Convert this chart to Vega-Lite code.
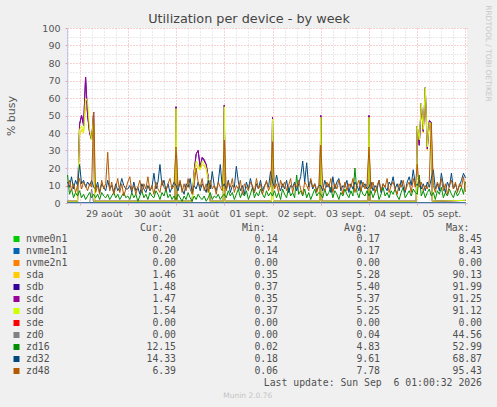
{
  "$schema": "https://vega.github.io/schema/vega-lite/v6.json",
  "background": "#f0f0f0",
  "padding": {"left": 5, "top": 5, "right": 6, "bottom": 9},
  "bounds": "flush",
  "spacing": 36,
  "title": {"text": "RRDTOOL / TOBI OETIKER", "orient": "right", "anchor": "start", "frame": "bounds", "offset": 2, "dx": -8, "fontSize": 7.5, "fontWeight": "normal", "color": "#c8c8c8", "font": "DejaVu Sans"},
  "config": {
    "view": {"stroke": null},
    "font": "DejaVu Sans",
    "text": {"font": "DejaVu Sans Mono", "fontSize": 9.8, "color": "#505050", "baseline": "middle"}
  },
  "datasets": {
    "series": [
      {"t": "2026-08-28T18:00", "nvme0n1": 0.2, "nvme1n1": 0.2, "nvme2n1": 0, "sde": 0, "zd0": 0, "sda": 1, "sdb": 1, "sdc": 1, "sdd": 1, "zd16": 16, "zd32": 12, "zd48": 9},
      {"t": "2026-08-28T19:00", "zd16": 5, "zd32": 9, "zd48": 13},
      {"t": "2026-08-28T20:00", "zd16": 8, "zd32": 15, "zd48": 7},
      {"t": "2026-08-28T21:00", "zd16": 3, "zd32": 8, "zd48": 11},
      {"t": "2026-08-28T22:00", "zd16": 6, "zd32": 13, "zd48": 6},
      {"t": "2026-08-28T23:00", "sda": 1, "sdb": 1, "sdc": 1, "sdd": 1, "zd16": 4, "zd32": 10, "zd48": 10},
      {"t": "2026-08-29T00:00", "sda": 38, "sdb": 45, "sdc": 45, "sdd": 42, "zd16": 7, "zd32": 22, "zd48": 14},
      {"t": "2026-08-29T01:00", "sda": 42, "sdb": 50, "sdc": 50, "sdd": 44, "zd16": 3, "zd32": 11, "zd48": 8},
      {"t": "2026-08-29T02:00", "sda": 40, "sdb": 44, "sdc": 45, "sdd": 40, "zd16": 5, "zd32": 13, "zd48": 12},
      {"t": "2026-08-29T03:00", "sda": 55, "sdb": 72, "sdc": 72, "sdd": 60, "zd16": 2, "zd32": 9, "zd48": 10},
      {"t": "2026-08-29T04:00", "sda": 52, "sdb": 50, "sdc": 50, "sdd": 58, "zd16": 4, "zd32": 12, "zd48": 7},
      {"t": "2026-08-29T05:00", "sda": 40, "sdb": 40, "sdc": 40, "sdd": 42, "zd0": 0, "zd16": 6, "zd32": 10, "zd48": 11},
      {"t": "2026-08-29T06:00", "sda": 37, "sdb": 36, "sdc": 36, "sdd": 36, "zd0": 8, "zd16": 3, "zd32": 13, "zd48": 9},
      {"t": "2026-08-29T07:00", "sda": 48, "sdb": 52, "sdc": 52, "sdd": 50, "zd0": 0, "zd16": 5, "zd32": 9, "zd48": 52},
      {"t": "2026-08-29T07:30", "sda": 1, "sdb": 1, "sdc": 1, "sdd": 1},
      {"t": "2026-08-29T08:00", "zd16": 3, "zd32": 8, "zd48": 6},
      {"t": "2026-08-29T09:00", "zd16": 5, "zd32": 12, "zd48": 10},
      {"t": "2026-08-29T10:00", "zd16": 2, "zd32": 6, "zd48": 5},
      {"t": "2026-08-29T11:00", "zd16": 6, "zd32": 11, "zd48": 13},
      {"t": "2026-08-29T12:00", "zd16": 4, "zd32": 9, "zd48": 8},
      {"t": "2026-08-29T13:00", "zd16": 3, "zd32": 7, "zd48": 11},
      {"t": "2026-08-29T14:00", "zd16": 5, "zd32": 13, "zd48": 29},
      {"t": "2026-08-29T15:00", "zd16": 2, "zd32": 8, "zd48": 7},
      {"t": "2026-08-29T16:00", "zd16": 4, "zd32": 10, "zd48": 12},
      {"t": "2026-08-29T17:00", "zd16": 6, "zd32": 6, "zd48": 5},
      {"t": "2026-08-29T18:00", "zd16": 3, "zd32": 11, "zd48": 9},
      {"t": "2026-08-29T19:00", "zd16": 5, "zd32": 7, "zd48": 14},
      {"t": "2026-08-29T20:00", "zd16": 2, "zd32": 9, "zd48": 6},
      {"t": "2026-08-29T21:00", "zd16": 4, "zd32": 14, "zd48": 11},
      {"t": "2026-08-29T22:00", "zd16": 6, "zd32": 10, "zd48": 4},
      {"t": "2026-08-29T23:00", "zd16": 3, "zd32": 8, "zd48": 8},
      {"t": "2026-08-30T00:00", "zd16": 4, "zd32": 8, "zd48": 12},
      {"t": "2026-08-30T01:00", "zd16": 2, "zd32": 10, "zd48": 15},
      {"t": "2026-08-30T02:00", "zd16": 6, "zd32": 6, "zd48": 7},
      {"t": "2026-08-30T03:00", "zd16": 3, "zd32": 12, "zd48": 10},
      {"t": "2026-08-30T04:00", "zd16": 5, "zd32": 7, "zd48": 5},
      {"t": "2026-08-30T05:00", "zd16": 1, "zd32": 9, "zd48": 9},
      {"t": "2026-08-30T06:00", "zd16": 4, "zd32": 5, "zd48": 13},
      {"t": "2026-08-30T07:00", "zd16": 7, "zd32": 11, "zd48": 6},
      {"t": "2026-08-30T08:00", "zd16": 3, "zd32": 8, "zd48": 11},
      {"t": "2026-08-30T09:00", "zd16": 5, "zd32": 6, "zd48": 8},
      {"t": "2026-08-30T10:00", "zd16": 2, "zd32": 10, "zd48": 15},
      {"t": "2026-08-30T11:00", "zd16": 6, "zd32": 7, "zd48": 7},
      {"t": "2026-08-30T12:00", "zd16": 4, "zd32": 9, "zd48": 10},
      {"t": "2026-08-30T13:00", "zd16": 3, "zd32": 17, "zd48": 5},
      {"t": "2026-08-30T14:00", "zd16": 7, "zd32": 8, "zd48": 12},
      {"t": "2026-08-30T15:00", "zd16": 5, "zd32": 12, "zd48": 8},
      {"t": "2026-08-30T16:00", "zd16": 2, "zd32": 22, "zd48": 6},
      {"t": "2026-08-30T17:00", "zd16": 6, "zd32": 10, "zd48": 13},
      {"t": "2026-08-30T18:00", "zd16": 4, "zd32": 13, "zd48": 9},
      {"t": "2026-08-30T19:00", "zd16": 8, "zd32": 7, "zd48": 7},
      {"t": "2026-08-30T20:00", "zd16": 3, "zd32": 11, "zd48": 11},
      {"t": "2026-08-30T21:00", "zd16": 5, "zd32": 6, "zd48": 14},
      {"t": "2026-08-30T22:00", "zd16": 2, "zd32": 9, "zd48": 8},
      {"t": "2026-08-30T23:00", "zd16": 4, "zd32": 12, "zd48": 10},
      {"t": "2026-08-30T23:30", "sda": 1, "sdb": 1, "sdc": 1, "sdd": 1},
      {"t": "2026-08-31T00:00", "sda": 50, "sdb": 55, "sdc": 55, "sdd": 54, "zd16": 2, "zd32": 10, "zd48": 32},
      {"t": "2026-08-31T00:30", "sda": 1, "sdb": 1, "sdc": 1, "sdd": 1},
      {"t": "2026-08-31T01:00", "zd16": 5, "zd32": 7, "zd48": 9},
      {"t": "2026-08-31T02:00", "zd16": 3, "zd32": 12, "zd48": 13},
      {"t": "2026-08-31T03:00", "zd16": 1, "zd32": 8, "zd48": 6},
      {"t": "2026-08-31T04:00", "zd16": 4, "zd32": 5, "zd48": 11},
      {"t": "2026-08-31T05:00", "zd16": 2, "zd32": 11, "zd48": 7},
      {"t": "2026-08-31T06:00", "zd16": 6, "zd32": 9, "zd48": 14},
      {"t": "2026-08-31T07:00", "zd16": 3, "zd32": 14, "zd48": 8},
      {"t": "2026-08-31T08:00", "sda": 1, "sdb": 1, "sdc": 1, "sdd": 1, "zd16": 1, "zd32": 6, "zd48": 5},
      {"t": "2026-08-31T09:00", "sda": 16, "sdb": 18, "sdc": 18, "sdd": 17, "zd16": 4, "zd32": 10, "zd48": 10},
      {"t": "2026-08-31T10:00", "sda": 22, "sdb": 28, "sdc": 28, "sdd": 24, "zd16": 2, "zd32": 8, "zd48": 20},
      {"t": "2026-08-31T11:00", "sda": 20, "sdb": 30, "sdc": 30, "sdd": 22, "zd16": 5, "zd32": 12, "zd48": 12},
      {"t": "2026-08-31T12:00", "sda": 19, "sdb": 20, "sdc": 21, "sdd": 19, "zd16": 3, "zd32": 7, "zd48": 9},
      {"t": "2026-08-31T13:00", "sda": 22, "sdb": 26, "sdc": 26, "sdd": 24, "zd16": 2, "zd32": 11, "zd48": 14},
      {"t": "2026-08-31T14:00", "sda": 21, "sdb": 24, "sdc": 25, "sdd": 22, "zd16": 4, "zd32": 9, "zd48": 7},
      {"t": "2026-08-31T15:00", "sda": 19, "sdb": 22, "sdc": 22, "sdd": 20, "zd16": 1, "zd32": 6, "zd48": 11},
      {"t": "2026-08-31T16:00", "sda": 13, "sdb": 15, "sdc": 15, "sdd": 14, "zd16": 3, "zd32": 13, "zd48": 6},
      {"t": "2026-08-31T17:00", "sda": 1, "sdb": 1, "sdc": 1, "sdd": 1, "zd16": 6, "zd32": 8, "zd48": 13},
      {"t": "2026-08-31T18:00", "zd16": 2, "zd32": 18, "zd48": 8},
      {"t": "2026-08-31T19:00", "zd16": 4, "zd32": 10, "zd48": 10},
      {"t": "2026-08-31T20:00", "zd16": 3, "zd32": 7, "zd48": 5},
      {"t": "2026-08-31T21:00", "zd16": 5, "zd32": 12, "zd48": 12},
      {"t": "2026-08-31T22:00", "zd16": 2, "zd32": 22, "zd48": 9},
      {"t": "2026-08-31T23:00", "zd16": 4, "zd32": 9, "zd48": 7},
      {"t": "2026-08-31T23:30", "sda": 1, "sdb": 1, "sdc": 1, "sdd": 1},
      {"t": "2026-09-01T00:00", "sda": 52, "sdb": 56, "sdc": 56, "sdd": 55, "zd16": 5, "zd32": 11, "zd48": 36},
      {"t": "2026-09-01T00:30", "sda": 1, "sdb": 1, "sdc": 1, "sdd": 1},
      {"t": "2026-09-01T01:00", "zd16": 3, "zd32": 8, "zd48": 7},
      {"t": "2026-09-01T02:00", "zd16": 7, "zd32": 13, "zd48": 12},
      {"t": "2026-09-01T03:00", "zd16": 4, "zd32": 6, "zd48": 9},
      {"t": "2026-09-01T04:00", "zd16": 6, "zd32": 10, "zd48": 14},
      {"t": "2026-09-01T05:00", "zd16": 2, "zd32": 9, "zd48": 6},
      {"t": "2026-09-01T06:00", "zd16": 5, "zd32": 21, "zd48": 10},
      {"t": "2026-09-01T07:00", "zd16": 8, "zd32": 12, "zd48": 8},
      {"t": "2026-09-01T08:00", "zd16": 3, "zd32": 7, "zd48": 13},
      {"t": "2026-09-01T09:00", "zd16": 6, "zd32": 10, "zd48": 5},
      {"t": "2026-09-01T10:00", "zd16": 4, "zd32": 5, "zd48": 11},
      {"t": "2026-09-01T11:00", "zd16": 7, "zd32": 12, "zd48": 9},
      {"t": "2026-09-01T12:00", "zd16": 2, "zd32": 8, "zd48": 7},
      {"t": "2026-09-01T13:00", "zd16": 5, "zd32": 14, "zd48": 12},
      {"t": "2026-09-01T14:00", "zd16": 9, "zd32": 9, "zd48": 10},
      {"t": "2026-09-01T15:00", "zd16": 3, "zd32": 6, "zd48": 6},
      {"t": "2026-09-01T16:00", "zd16": 6, "zd32": 11, "zd48": 14},
      {"t": "2026-09-01T17:00", "zd16": 4, "zd32": 8, "zd48": 8},
      {"t": "2026-09-01T18:00", "zd16": 8, "zd32": 13, "zd48": 11},
      {"t": "2026-09-01T19:00", "zd16": 5, "zd32": 7, "zd48": 5},
      {"t": "2026-09-01T20:00", "zd16": 3, "zd32": 10, "zd48": 9},
      {"t": "2026-09-01T21:00", "zd16": 7, "zd32": 12, "zd48": 13},
      {"t": "2026-09-01T22:00", "zd16": 4, "zd32": 9, "zd48": 7},
      {"t": "2026-09-01T23:00", "zd16": 6, "zd32": 18, "zd48": 10},
      {"t": "2026-09-01T23:30", "sda": 1, "sdb": 1, "sdc": 1, "sdd": 1},
      {"t": "2026-09-02T00:00", "sda": 46, "sdb": 49, "sdc": 49, "sdd": 48, "zd16": 4, "zd32": 12, "zd48": 35},
      {"t": "2026-09-02T00:30", "sda": 1, "sdb": 1, "sdc": 1, "sdd": 1},
      {"t": "2026-09-02T01:00", "zd16": 7, "zd32": 9, "zd48": 8},
      {"t": "2026-09-02T02:00", "zd16": 3, "zd32": 16, "zd48": 11},
      {"t": "2026-09-02T03:00", "zd16": 6, "zd32": 10, "zd48": 6},
      {"t": "2026-09-02T04:00", "zd16": 2, "zd32": 7, "zd48": 13},
      {"t": "2026-09-02T05:00", "zd16": 8, "zd32": 11, "zd48": 9},
      {"t": "2026-09-02T06:00", "zd16": 5, "zd32": 8, "zd48": 12},
      {"t": "2026-09-02T07:00", "zd16": 3, "zd32": 13, "zd48": 7},
      {"t": "2026-09-02T08:00", "zd16": 9, "zd32": 6, "zd48": 10},
      {"t": "2026-09-02T09:00", "zd16": 4, "zd32": 10, "zd48": 14},
      {"t": "2026-09-02T10:00", "zd16": 6, "zd32": 9, "zd48": 6},
      {"t": "2026-09-02T11:00", "zd16": 3, "zd32": 12, "zd48": 11},
      {"t": "2026-09-02T12:00", "zd16": 16, "zd32": 7, "zd48": 9},
      {"t": "2026-09-02T13:00", "zd16": 5, "zd32": 11, "zd48": 13},
      {"t": "2026-09-02T14:00", "zd16": 7, "zd32": 15, "zd48": 8},
      {"t": "2026-09-02T15:00", "zd16": 4, "zd32": 24, "zd48": 5},
      {"t": "2026-09-02T16:00", "zd16": 8, "zd32": 12, "zd48": 12},
      {"t": "2026-09-02T17:00", "zd16": 3, "zd32": 23, "zd48": 10},
      {"t": "2026-09-02T18:00", "zd16": 6, "zd32": 9, "zd48": 7},
      {"t": "2026-09-02T19:00", "zd16": 2, "zd32": 13, "zd48": 14},
      {"t": "2026-09-02T20:00", "zd16": 5, "zd32": 8, "zd48": 9},
      {"t": "2026-09-02T21:00", "zd16": 8, "zd32": 11, "zd48": 11},
      {"t": "2026-09-02T22:00", "zd16": 4, "zd32": 7, "zd48": 6},
      {"t": "2026-09-02T23:00", "zd16": 6, "zd32": 10, "zd48": 10},
      {"t": "2026-09-02T23:30", "sda": 1, "sdb": 1, "sdc": 1, "sdd": 1},
      {"t": "2026-09-03T00:00", "sda": 47, "sdb": 50, "sdc": 50, "sdd": 49, "zd16": 5, "zd32": 10, "zd48": 33},
      {"t": "2026-09-03T00:30", "sda": 1, "sdb": 1, "sdc": 1, "sdd": 1},
      {"t": "2026-09-03T01:00", "zd16": 3, "zd32": 7, "zd48": 10},
      {"t": "2026-09-03T02:00", "zd16": 8, "zd32": 13, "zd48": 7},
      {"t": "2026-09-03T03:00", "zd16": 4, "zd32": 9, "zd48": 12},
      {"t": "2026-09-03T04:00", "zd16": 6, "zd32": 11, "zd48": 9},
      {"t": "2026-09-03T05:00", "zd16": 9, "zd32": 6, "zd48": 14},
      {"t": "2026-09-03T06:00", "zd16": 3, "zd32": 15, "zd48": 6},
      {"t": "2026-09-03T07:00", "zd16": 7, "zd32": 8, "zd48": 11},
      {"t": "2026-09-03T08:00", "zd16": 5, "zd32": 12, "zd48": 8},
      {"t": "2026-09-03T09:00", "zd16": 2, "zd32": 14, "zd48": 13},
      {"t": "2026-09-03T10:00", "zd16": 6, "zd32": 7, "zd48": 10},
      {"t": "2026-09-03T11:00", "zd16": 4, "zd32": 10, "zd48": 5},
      {"t": "2026-09-03T12:00", "zd16": 8, "zd32": 9, "zd48": 12},
      {"t": "2026-09-03T13:00", "zd16": 5, "zd32": 13, "zd48": 7},
      {"t": "2026-09-03T14:00", "zd16": 3, "zd32": 6, "zd48": 11},
      {"t": "2026-09-03T15:00", "zd16": 7, "zd32": 11, "zd48": 9},
      {"t": "2026-09-03T16:00", "zd16": 4, "zd32": 8, "zd48": 14},
      {"t": "2026-09-03T17:00", "zd16": 20, "zd32": 12, "zd48": 6},
      {"t": "2026-09-03T18:00", "zd16": 6, "zd32": 10, "zd48": 10},
      {"t": "2026-09-03T19:00", "zd16": 3, "zd32": 7, "zd48": 13},
      {"t": "2026-09-03T20:00", "zd16": 8, "zd32": 13, "zd48": 7},
      {"t": "2026-09-03T21:00", "zd16": 5, "zd32": 9, "zd48": 12},
      {"t": "2026-09-03T22:00", "zd16": 4, "zd32": 11, "zd48": 8},
      {"t": "2026-09-03T23:00", "zd16": 7, "zd32": 8, "zd48": 11},
      {"t": "2026-09-03T23:30", "sda": 1, "sdb": 1, "sdc": 1, "sdd": 1},
      {"t": "2026-09-04T00:00", "sda": 47, "sdb": 50, "sdc": 50, "sdd": 49, "zd16": 4, "zd32": 9, "zd48": 32},
      {"t": "2026-09-04T00:30", "sda": 1, "sdb": 1, "sdc": 1, "sdd": 1},
      {"t": "2026-09-04T01:00", "zd16": 7, "zd32": 12, "zd48": 8},
      {"t": "2026-09-04T02:00", "zd16": 3, "zd32": 7, "zd48": 12},
      {"t": "2026-09-04T03:00", "zd16": 6, "zd32": 10, "zd48": 6},
      {"t": "2026-09-04T04:00", "zd16": 8, "zd32": 8, "zd48": 10},
      {"t": "2026-09-04T05:00", "zd16": 2, "zd32": 13, "zd48": 13},
      {"t": "2026-09-04T06:00", "zd16": 5, "zd32": 6, "zd48": 7},
      {"t": "2026-09-04T07:00", "zd16": 9, "zd32": 11, "zd48": 11},
      {"t": "2026-09-04T08:00", "zd16": 4, "zd32": 9, "zd48": 9},
      {"t": "2026-09-04T09:00", "zd16": 6, "zd32": 7, "zd48": 14},
      {"t": "2026-09-04T10:00", "zd16": 3, "zd32": 12, "zd48": 6},
      {"t": "2026-09-04T11:00", "zd16": 7, "zd32": 10, "zd48": 10},
      {"t": "2026-09-04T12:00", "zd16": 5, "zd32": 15, "zd48": 12},
      {"t": "2026-09-04T13:00", "zd16": 8, "zd32": 8, "zd48": 8},
      {"t": "2026-09-04T14:00", "zd16": 4, "zd32": 11, "zd48": 5},
      {"t": "2026-09-04T15:00", "zd16": 2, "zd32": 7, "zd48": 11},
      {"t": "2026-09-04T16:00", "zd16": 6, "zd32": 13, "zd48": 9},
      {"t": "2026-09-04T17:00", "zd16": 9, "zd32": 9, "zd48": 13},
      {"t": "2026-09-04T18:00", "zd16": 3, "zd32": 6, "zd48": 7},
      {"t": "2026-09-04T19:00", "zd16": 5, "zd32": 12, "zd48": 10},
      {"t": "2026-09-04T20:00", "zd16": 7, "zd32": 15, "zd48": 12},
      {"t": "2026-09-04T21:00", "zd16": 4, "zd32": 10, "zd48": 6},
      {"t": "2026-09-04T22:00", "zd16": 8, "zd32": 19, "zd48": 14},
      {"t": "2026-09-04T23:00", "zd16": 6, "zd32": 11, "zd48": 9},
      {"t": "2026-09-04T23:30", "sda": 1, "sdb": 1, "sdc": 1, "sdd": 1},
      {"t": "2026-09-05T00:00", "sda": 42, "sdb": 44, "sdc": 44, "sdd": 44, "zd16": 5, "zd32": 10, "zd48": 22},
      {"t": "2026-09-05T01:00", "sda": 34, "sdb": 33, "sdc": 33, "sdd": 36, "zd16": 16, "zd32": 13, "zd48": 9},
      {"t": "2026-09-05T02:00", "sda": 54, "sdb": 57, "sdc": 57, "sdd": 57, "zd16": 4, "zd32": 8, "zd48": 12},
      {"t": "2026-09-05T03:00", "sda": 40, "sdb": 41, "sdc": 41, "sdd": 42, "zd16": 7, "zd32": 11, "zd48": 7},
      {"t": "2026-09-05T04:00", "sda": 62, "sdb": 66, "sdc": 66, "sdd": 66, "zd16": 3, "zd32": 7, "zd48": 10},
      {"t": "2026-09-05T05:00", "sda": 30, "sdb": 31, "sdc": 31, "sdd": 32, "zd16": 6, "zd32": 12, "zd48": 8},
      {"t": "2026-09-05T06:00", "sda": 44, "sdb": 47, "sdc": 47, "sdd": 46, "zd16": 8, "zd32": 9, "zd48": 13},
      {"t": "2026-09-05T07:00", "sda": 43, "sdb": 46, "sdc": 46, "sdd": 44, "zd16": 4, "zd32": 14, "zd48": 46},
      {"t": "2026-09-05T07:30", "sda": 1, "sdb": 1, "sdc": 1, "sdd": 1},
      {"t": "2026-09-05T08:00", "zd16": 6, "zd32": 19, "zd48": 10},
      {"t": "2026-09-05T09:00", "zd16": 2, "zd32": 8, "zd48": 6},
      {"t": "2026-09-05T10:00", "zd16": 7, "zd32": 11, "zd48": 12},
      {"t": "2026-09-05T11:00", "zd16": 5, "zd32": 7, "zd48": 9},
      {"t": "2026-09-05T12:00", "zd16": 9, "zd32": 17, "zd48": 14},
      {"t": "2026-09-05T13:00", "zd16": 3, "zd32": 10, "zd48": 7},
      {"t": "2026-09-05T14:00", "zd16": 6, "zd32": 6, "zd48": 11},
      {"t": "2026-09-05T15:00", "zd16": 4, "zd32": 12, "zd48": 5},
      {"t": "2026-09-05T16:00", "zd16": 8, "zd32": 9, "zd48": 10},
      {"t": "2026-09-05T17:00", "zd16": 5, "zd32": 17, "zd48": 13},
      {"t": "2026-09-05T18:00", "zd16": 3, "zd32": 8, "zd48": 8},
      {"t": "2026-09-05T19:00", "zd16": 7, "zd32": 11, "zd48": 12},
      {"t": "2026-09-05T20:00", "zd16": 4, "zd32": 7, "zd48": 6},
      {"t": "2026-09-05T21:00", "zd16": 6, "zd32": 10, "zd48": 11},
      {"t": "2026-09-05T22:00", "zd16": 9, "zd32": 13, "zd48": 9},
      {"t": "2026-09-05T23:00", "zd16": 5, "zd32": 17, "zd48": 15},
      {"t": "2026-09-06T00:00", "nvme0n1": 0.2, "nvme1n1": 0.2, "nvme2n1": 0, "sde": 0, "zd0": 0, "sda": 1.46, "sdb": 1.48, "sdc": 1.47, "sdd": 1.54, "zd16": 12.15, "zd32": 14.33, "zd48": 6.39}
    ],
    "legend": [
      {"name": "nvme0n1", "cur": "0.20", "min": "0.14", "avg": "0.17", "max": "8.45"},
      {"name": "nvme1n1", "cur": "0.20", "min": "0.14", "avg": "0.17", "max": "8.43"},
      {"name": "nvme2n1", "cur": "0.00", "min": "0.00", "avg": "0.00", "max": "0.00"},
      {"name": "sda", "cur": "1.46", "min": "0.35", "avg": "5.28", "max": "90.13"},
      {"name": "sdb", "cur": "1.48", "min": "0.37", "avg": "5.40", "max": "91.99"},
      {"name": "sdc", "cur": "1.47", "min": "0.35", "avg": "5.37", "max": "91.25"},
      {"name": "sdd", "cur": "1.54", "min": "0.37", "avg": "5.25", "max": "91.12"},
      {"name": "sde", "cur": "0.00", "min": "0.00", "avg": "0.00", "max": "0.00"},
      {"name": "zd0", "cur": "0.00", "min": "0.00", "avg": "0.04", "max": "44.56"},
      {"name": "zd16", "cur": "12.15", "min": "0.02", "avg": "4.83", "max": "52.99"},
      {"name": "zd32", "cur": "14.33", "min": "0.18", "avg": "9.61", "max": "68.87"},
      {"name": "zd48", "cur": "6.39", "min": "0.06", "avg": "7.78", "max": "95.43"}
    ]
  },
  "vconcat": [
    {
      "width": 400,
      "height": 175,
      "view": {"fill": "white", "stroke": null},
      "title": {"text": "Utilization per device - by week", "frame": "group", "anchor": "middle", "dx": -18, "offset": -3, "fontSize": 12.8, "fontWeight": "normal", "color": "#444444", "font": "DejaVu Sans"},
      "data": {"name": "series"},
      "transform": [
        {"fold": ["nvme2n1", "sde", "nvme0n1", "nvme1n1", "zd0", "sda", "sdb", "sdc", "sdd", "zd16", "zd32", "zd48"], "as": ["device", "busy"]},
        {"filter": "isValid(datum.busy)"}
      ],
      "mark": {"type": "line", "strokeWidth": 1, "clip": true},
      "encoding": {
        "x": {
          "field": "t", "type": "temporal",
          "scale": {"domain": [{"year": 2026, "month": 8, "date": 28, "hours": 17, "minutes": 45}, {"year": 2026, "month": 9, "date": 6, "hours": 0, "minutes": 45}]},
          "axis": {
            "title": null,
            "values": [
              {"year": 2026, "month": 8, "date": 28, "hours": 18},
              {"year": 2026, "month": 8, "date": 29, "hours": 0}, {"year": 2026, "month": 8, "date": 29, "hours": 6}, {"year": 2026, "month": 8, "date": 29, "hours": 12}, {"year": 2026, "month": 8, "date": 29, "hours": 18},
              {"year": 2026, "month": 8, "date": 30, "hours": 0}, {"year": 2026, "month": 8, "date": 30, "hours": 6}, {"year": 2026, "month": 8, "date": 30, "hours": 12}, {"year": 2026, "month": 8, "date": 30, "hours": 18},
              {"year": 2026, "month": 8, "date": 31, "hours": 0}, {"year": 2026, "month": 8, "date": 31, "hours": 6}, {"year": 2026, "month": 8, "date": 31, "hours": 12}, {"year": 2026, "month": 8, "date": 31, "hours": 18},
              {"year": 2026, "month": 9, "date": 1, "hours": 0}, {"year": 2026, "month": 9, "date": 1, "hours": 6}, {"year": 2026, "month": 9, "date": 1, "hours": 12}, {"year": 2026, "month": 9, "date": 1, "hours": 18},
              {"year": 2026, "month": 9, "date": 2, "hours": 0}, {"year": 2026, "month": 9, "date": 2, "hours": 6}, {"year": 2026, "month": 9, "date": 2, "hours": 12}, {"year": 2026, "month": 9, "date": 2, "hours": 18},
              {"year": 2026, "month": 9, "date": 3, "hours": 0}, {"year": 2026, "month": 9, "date": 3, "hours": 6}, {"year": 2026, "month": 9, "date": 3, "hours": 12}, {"year": 2026, "month": 9, "date": 3, "hours": 18},
              {"year": 2026, "month": 9, "date": 4, "hours": 0}, {"year": 2026, "month": 9, "date": 4, "hours": 6}, {"year": 2026, "month": 9, "date": 4, "hours": 12}, {"year": 2026, "month": 9, "date": 4, "hours": 18},
              {"year": 2026, "month": 9, "date": 5, "hours": 0}, {"year": 2026, "month": 9, "date": 5, "hours": 6}, {"year": 2026, "month": 9, "date": 5, "hours": 12}, {"year": 2026, "month": 9, "date": 5, "hours": 18},
              {"year": 2026, "month": 9, "date": 6, "hours": 0}
            ],
            "grid": true,
            "gridColor": {"condition": {"test": "hours(datum.value) === 0", "value": "#eea4a4"}, "value": "#d4d4d4"},
            "gridDash": [1, 2],
            "labelExpr": "hours(datum.value) === 12 ? timeFormat(datum.value, '%d') + (month(datum.value) === 7 ? ' août' : ' sept.') : ''",
            "labelOverlap": false,
            "labelFlush": false,
            "labelFont": "DejaVu Sans",
            "labelFontSize": 9.5,
            "labelColor": "#555555",
            "labelPadding": 3,
            "tickSize": 2,
            "tickColor": {"condition": {"test": "hours(datum.value) === 0", "value": "#eea4a4"}, "value": "transparent"},
            "domainColor": "#c4c4ee"
          }
        },
        "y": {
          "field": "busy", "type": "quantitative",
          "scale": {"domain": [0, 100], "nice": false},
          "axis": {
            "title": "% busy",
            "titleFont": "DejaVu Sans",
            "titleFontSize": 11,
            "titleFontWeight": "normal",
            "titleColor": "#555555",
            "titlePadding": 25,
            "values": [0, 5, 10, 15, 20, 25, 30, 35, 40, 45, 50, 55, 60, 65, 70, 75, 80, 85, 90, 95, 100],
            "labelExpr": "datum.value % 10 === 0 ? datum.label : ''",
            "gridColor": {"condition": {"test": "datum.value % 10 === 0", "value": "#eea4a4"}, "value": "#d4d4d4"},
            "gridDash": [1, 2],
            "labelFont": "DejaVu Sans",
            "labelFontSize": 9.5,
            "labelColor": "#555555",
            "labelPadding": 5,
            "tickSize": 2,
            "tickColor": {"condition": {"test": "datum.value % 10 === 0", "value": "#eea4a4"}, "value": "transparent"},
            "domainColor": "#c4c4ee"
          }
        },
        "color": {
          "field": "device", "type": "nominal",
          "scale": {
            "domain": ["nvme0n1", "nvme1n1", "nvme2n1", "sda", "sdb", "sdc", "sdd", "sde", "zd0", "zd16", "zd32", "zd48"],
            "range": ["#00cc00", "#0066b3", "#ff8000", "#ffcc00", "#330099", "#990099", "#ccff00", "#ff0000", "#808080", "#008f00", "#00487d", "#b35a00"]
          },
          "legend": null
        }
      }
    },
    {
      "width": 415,
      "height": 144,
      "title": {"text": "Munin 2.0.76", "orient": "bottom", "frame": "bounds", "anchor": "middle", "offset": 4, "fontSize": 7.5, "fontWeight": "normal", "color": "#c4c4c4", "font": "DejaVu Sans"},
      "data": {"name": "legend"},
      "encoding": {
        "y": {
          "field": "name", "type": "nominal",
          "scale": {"type": "point", "padding": 0, "domain": ["nvme0n1", "nvme1n1", "nvme2n1", "sda", "sdb", "sdc", "sdd", "sde", "zd0", "zd16", "zd32", "zd48", "upd"]},
          "axis": null
        }
      },
      "layer": [
        {
          "mark": {"type": "square", "size": 36, "opacity": 1, "filled": true, "xOffset": -57.5},
          "encoding": {
            "x": {
              "datum": "name", "type": "nominal",
              "scale": {"type": "point", "padding": 0, "domain": ["name", "Cur:", "Min:", "Avg:", "Max:"], "range": [7, 415]},
              "axis": {
                "orient": "top", "title": null, "domain": false, "ticks": false, "grid": false,
                "labelExpr": "datum.value === 'name' ? '' : datum.label",
                "labelAngle": 0,
                "labelAlign": "right",
                "labelBaseline": "middle",
                "labelPadding": 12,
                "labelOffset": -13,
                "labelFont": "DejaVu Sans Mono",
                "labelFontSize": 9.8,
                "labelColor": "#505050"
              }
            },
            "color": {
              "field": "name", "type": "nominal",
              "scale": {
                "domain": ["nvme0n1", "nvme1n1", "nvme2n1", "sda", "sdb", "sdc", "sdd", "sde", "zd0", "zd16", "zd32", "zd48"],
                "range": ["#00cc00", "#0066b3", "#ff8000", "#ffcc00", "#330099", "#990099", "#ccff00", "#ff0000", "#808080", "#008f00", "#00487d", "#b35a00"]
              },
              "legend": null
            }
          }
        },
        {"mark": {"type": "text", "align": "left", "dx": -48}, "encoding": {"x": {"datum": "name", "type": "nominal"}, "text": {"field": "name"}}},
        {"mark": {"type": "text", "align": "right"}, "encoding": {"x": {"datum": "Cur:", "type": "nominal"}, "text": {"field": "cur"}}},
        {"mark": {"type": "text", "align": "right"}, "encoding": {"x": {"datum": "Min:", "type": "nominal"}, "text": {"field": "min"}}},
        {"mark": {"type": "text", "align": "right"}, "encoding": {"x": {"datum": "Avg:", "type": "nominal"}, "text": {"field": "avg"}}},
        {"mark": {"type": "text", "align": "right"}, "encoding": {"x": {"datum": "Max:", "type": "nominal"}, "text": {"field": "max"}}},
        {
          "data": {"values": [{"name": "upd", "note": "Last update: Sun Sep\u00a0 6 01:00:32 2026"}]},
          "mark": {"type": "text", "align": "right"},
          "encoding": {"x": {"datum": "Max:", "type": "nominal"}, "text": {"field": "note"}}
        }
      ]
    }
  ]
}
